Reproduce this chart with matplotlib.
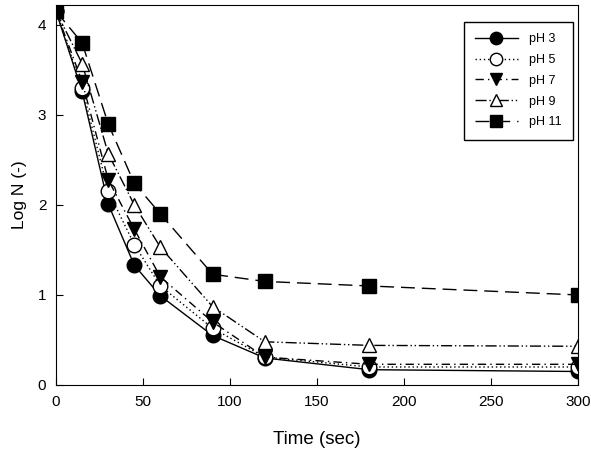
import matplotlib
matplotlib.use('Agg')
import matplotlib.pyplot as plt

plt.rcParams['font.family'] = ['Liberation Sans', 'DejaVu Sans']

# Sampling times (sec)
time = [0, 15, 30, 45, 60, 90, 120, 180, 300]

# Log N for each pH
ph3 = [4.15, 3.26, 2.01, 1.33, 0.99, 0.55, 0.30, 0.17, 0.15]
ph5 = [4.15, 3.30, 2.15, 1.56, 1.10, 0.63, 0.31, 0.20, 0.20]
ph7 = [4.15, 3.37, 2.28, 1.73, 1.20, 0.70, 0.31, 0.23, 0.23]
ph9 = [4.15, 3.57, 2.57, 2.00, 1.53, 0.87, 0.48, 0.44, 0.43]
ph11 = [4.15, 3.80, 2.90, 2.24, 1.90, 1.23, 1.15, 1.10, 1.00]

labels = ['pH 3', 'pH 5', 'pH 7', 'pH 9', 'pH 11']
x_ticks = [0, 50, 100, 150, 200, 250, 300]
y_ticks = [0, 1, 2, 3, 4]

fig = plt.figure(figsize=(5.91, 4.58), dpi=100)
ax = fig.add_axes([56/591, 1 - 385/458, (578-56)/591, (385-5)/458])

ax.plot(time, ph3, color='k', lw=1, ls='-', marker='o', ms=10.5,
        mfc='k', mec='k', label=labels[0])
ax.plot(time, ph5, color='k', lw=1, ls=(0, (1, 2)), marker='o', ms=10.5,
        mfc='white', mec='k', label=labels[1])
ax.plot(time, ph7, color='k', lw=1, ls=(0, (6, 3, 1, 3)), marker='v', ms=10.5,
        mfc='k', mec='k', label=labels[2])
ax.plot(time, ph9, color='k', lw=1, ls=(0, (8, 2, 1, 2, 1, 2)), marker='^', ms=10.5,
        mfc='white', mec='k', label=labels[3])
ax.plot(time, ph11, color='k', lw=1, ls=(0, (10, 5)), marker='s', ms=9.5,
        mfc='k', mec='k', label=labels[4])

ax.set_xlim(0, 300)
ax.set_ylim(0, 4.22)
ax.set_xticks(x_ticks)
ax.set_yticks(y_ticks)
ax.tick_params(direction='in', labelsize=11, length=5, pad=7)
ax.set_xlabel('Time (sec)', fontsize=13.5, labelpad=16)
ax.set_ylabel('Log N (-)', fontsize=12.5, labelpad=8)

leg = ax.legend(loc='upper right', bbox_to_anchor=(0.99, 0.955), borderaxespad=0,
                fontsize=9, fancybox=False, edgecolor='k', framealpha=1,
                handlelength=3.4, handletextpad=0.9, markerscale=0.85,
                borderpad=0.9, labelspacing=0.7)
leg.get_frame().set_linewidth(1)

fig.savefig('out.png', dpi=100)
